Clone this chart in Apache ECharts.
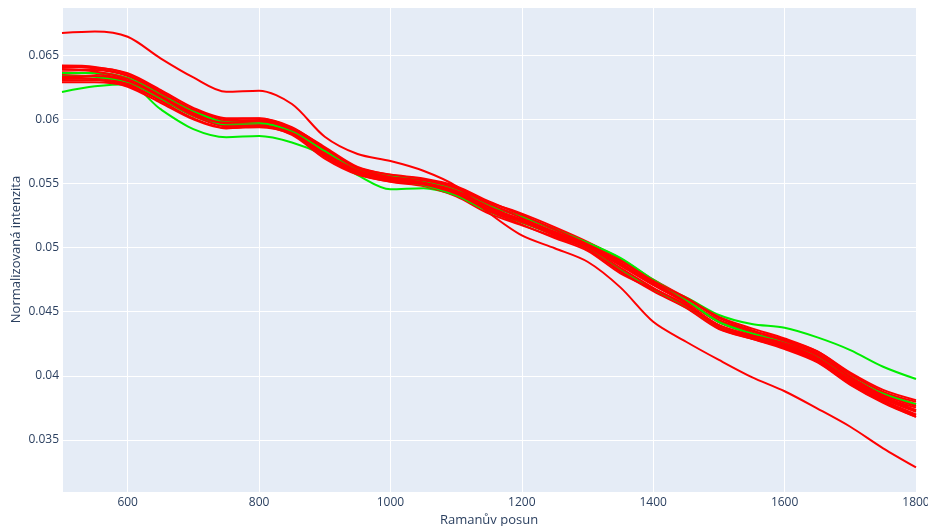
<!DOCTYPE html>
<html>
<head>
<meta charset="utf-8">
<script src="https://cdn.jsdelivr.net/npm/echarts@6/dist/echarts.min.js"></script>
<style>
html,body{margin:0;padding:0;background:#fff;}
#chart{width:928px;height:526px;}
</style>
</head>
<body>
<div id="chart"></div>
<script>
// Raman shift (x) sampled every 50 cm-1
const ramanShift = [500,550,600,650,700,750,800,850,900,950,1000,1050,1100,1150,1200,1250,1300,1350,1400,1450,1500,1550,1600,1650,1700,1750,1800];

// Red spectra (bundle)
const red01 = [0.06420,0.06410,0.06355,0.06220,0.06072,0.05990,0.05989,0.05919,0.05749,0.05606,0.05543,0.05510,0.05440,0.05300,0.05200,0.05097,0.04992,0.04830,0.04678,0.04542,0.04370,0.04289,0.04209,0.04105,0.03930,0.03790,0.03680];
const red02 = [0.06407,0.06404,0.06360,0.06230,0.06090,0.06010,0.06010,0.05934,0.05785,0.05630,0.05567,0.05534,0.05468,0.05340,0.05240,0.05138,0.05024,0.04878,0.04719,0.04578,0.04420,0.04339,0.04268,0.04175,0.04010,0.03875,0.03797];
const red03 = [0.06290,0.06290,0.06261,0.06155,0.06031,0.05962,0.05971,0.05910,0.05740,0.05603,0.05546,0.05519,0.05456,0.05335,0.05245,0.05147,0.05038,0.04914,0.04750,0.04610,0.04460,0.04370,0.04291,0.04190,0.04015,0.03870,0.03778];
const red04 = [0.06316,0.06320,0.06283,0.06165,0.06036,0.05954,0.05957,0.05892,0.05708,0.05576,0.05513,0.05480,0.05400,0.05265,0.05175,0.05083,0.04989,0.04818,0.04669,0.04538,0.04375,0.04298,0.04227,0.04130,0.03955,0.03810,0.03699];
const red05 = [0.06388,0.06386,0.06338,0.06205,0.06063,0.05982,0.05982,0.05913,0.05754,0.05612,0.05555,0.05528,0.05472,0.05355,0.05265,0.05160,0.05045,0.04908,0.04732,0.04590,0.04430,0.04334,0.04250,0.04140,0.03965,0.03820,0.03719];
const red06 = [0.06368,0.06356,0.06305,0.06175,0.06031,0.05946,0.05947,0.05880,0.05695,0.05570,0.05516,0.05492,0.05420,0.05290,0.05200,0.05106,0.05006,0.04860,0.04710,0.04582,0.04435,0.04352,0.04282,0.04190,0.04025,0.03890,0.03810];
const red07 = [0.06335,0.06338,0.06299,0.06180,0.06054,0.05986,0.05996,0.05931,0.05767,0.05615,0.05549,0.05516,0.05444,0.05310,0.05205,0.05097,0.04989,0.04812,0.04660,0.04530,0.04365,0.04289,0.04218,0.04120,0.03955,0.03825,0.03732];
const red08 = [0.06355,0.06362,0.06322,0.06195,0.06050,0.05970,0.05971,0.05901,0.05722,0.05585,0.05525,0.05498,0.05428,0.05305,0.05220,0.05124,0.05021,0.04884,0.04723,0.04582,0.04420,0.04325,0.04241,0.04135,0.03970,0.03835,0.03752];
const red09 = [0.06303,0.06308,0.06272,0.06145,0.06009,0.05934,0.05940,0.05886,0.05718,0.05591,0.05534,0.05504,0.05428,0.05285,0.05180,0.05075,0.04975,0.04800,0.04678,0.04554,0.04395,0.04307,0.04223,0.04110,0.03935,0.03795,0.03680];
const red10 = [0.06394,0.06374,0.06316,0.06185,0.06040,0.05974,0.05986,0.05925,0.05772,0.05624,0.05570,0.05540,0.05480,0.05360,0.05255,0.05142,0.05028,0.04896,0.04741,0.04606,0.04450,0.04357,0.04273,0.04170,0.03995,0.03850,0.03765];
const red11 = [0.06414,0.06398,0.06344,0.06210,0.06077,0.06002,0.06007,0.05940,0.05776,0.05618,0.05552,0.05525,0.05464,0.05345,0.05230,0.05120,0.05006,0.04842,0.04687,0.04550,0.04380,0.04302,0.04232,0.04125,0.03945,0.03800,0.03693];
const red12 = [0.06329,0.06314,0.06255,0.06130,0.06000,0.05930,0.05947,0.05895,0.05735,0.05603,0.05540,0.05507,0.05444,0.05320,0.05215,0.05110,0.05014,0.04872,0.04710,0.04566,0.04395,0.04316,0.04255,0.04160,0.03985,0.03840,0.03732];
// Red outlier (high at start, low at end)
const redOutlier = [0.06674,0.06686,0.06645,0.06477,0.06328,0.06215,0.06224,0.06120,0.05865,0.05730,0.05676,0.05600,0.05480,0.05270,0.05095,0.04995,0.04890,0.04690,0.04422,0.04266,0.04124,0.03990,0.03880,0.03745,0.03603,0.03435,0.03286];

// Green spectra
const greenOutlier = [0.06214,0.06258,0.06275,0.06080,0.05925,0.05862,0.05870,0.05820,0.05720,0.05566,0.05455,0.05463,0.05410,0.05307,0.05200,0.05110,0.05030,0.04910,0.04715,0.04612,0.04475,0.04404,0.04375,0.04300,0.04201,0.04071,0.03975];
const green02 = [0.06362,0.06362,0.06322,0.06200,0.06068,0.05978,0.05975,0.05904,0.05754,0.05615,0.05558,0.05522,0.05448,0.05325,0.05240,0.05142,0.05038,0.04920,0.04750,0.04594,0.04420,0.04330,0.04259,0.04165,0.03995,0.03860,0.03778];
const green03 = [0.06342,0.06332,0.06294,0.06165,0.06027,0.05958,0.05971,0.05916,0.05731,0.05588,0.05525,0.05489,0.05408,0.05280,0.05195,0.05101,0.05003,0.04836,0.04673,0.04534,0.04380,0.04311,0.04245,0.04150,0.03975,0.03830,0.03725];

const xTickMin = 500, xTickMax = 1800;
const yMin = 0.03094, yMax = 0.06877;

const RED = '#ff0000', GREEN = '#00ee00';
const drawOrder = [
  [greenOutlier, GREEN],
  [red01, RED], [red02, RED], [red03, RED], [red04, RED],
  [green03, GREEN],
  [red05, RED], [red06, RED], [red07, RED], [red08, RED],
  [green02, GREEN],
  [red09, RED], [red10, RED], [red11, RED], [red12, RED],
  [redOutlier, RED]
];

const series = drawOrder.map(([vals, color]) => ({
  type: 'line',
  data: ramanShift.map((x, i) => [x, vals[i]]),
  showSymbol: false,
  symbol: 'none',
  smooth: 0.3,
  lineStyle: { color: color, width: 2 },
  itemStyle: { color: color },
  emphasis: { disabled: true },
  silent: true
}));

const fontFam = '"Open Sans", "Noto Sans", Arial, sans-serif';
const chart = echarts.init(document.getElementById('chart'), null, { renderer: 'canvas' });
chart.setOption({
  animation: false,
  backgroundColor: '#ffffff',
  grid: { left: 62, right: 12, top: 7, bottom: 34, containLabel: false, outerBoundsMode: 'none', show: true, backgroundColor: '#E5ECF6', borderWidth: 0 },
  xAxis: {
    type: 'value',
    min: xTickMin, max: xTickMax,
    minInterval: 200, maxInterval: 200, splitNumber: 6,
    name: 'Ramanův posun',
    nameLocation: 'middle',
    nameGap: 22,
    nameMoveOverlap: false,
    nameTextStyle: { color: '#2a3f5f', fontFamily: fontFam, fontSize: 13 },
    axisLine: { show: false },
    axisTick: { show: false },
    axisLabel: { color: '#2a3f5f', fontFamily: fontFam, fontSize: 12, margin: 5, showMinLabel: false,
      formatter: v => String(v) },
    splitLine: { show: true, lineStyle: { color: '#ffffff', width: 1 } }
  },
  yAxis: {
    type: 'value',
    min: yMin, max: yMax,
    minInterval: 0.005, maxInterval: 0.005, splitNumber: 7,
    name: 'Normalizovaná intenzita',
    nameLocation: 'middle',
    nameGap: 39,
    nameMoveOverlap: false,
    nameTextStyle: { color: '#2a3f5f', fontFamily: fontFam, fontSize: 13 },
    axisLine: { show: false },
    axisTick: { show: false },
    axisLabel: { color: '#2a3f5f', fontFamily: fontFam, fontSize: 12, margin: 3, showMinLabel: false, showMaxLabel: false,
      formatter: v => String(parseFloat(v.toFixed(4))) },
    splitLine: { show: true, lineStyle: { color: '#ffffff', width: 1 } }
  },
  series: series
});
</script>
</body>
</html>
